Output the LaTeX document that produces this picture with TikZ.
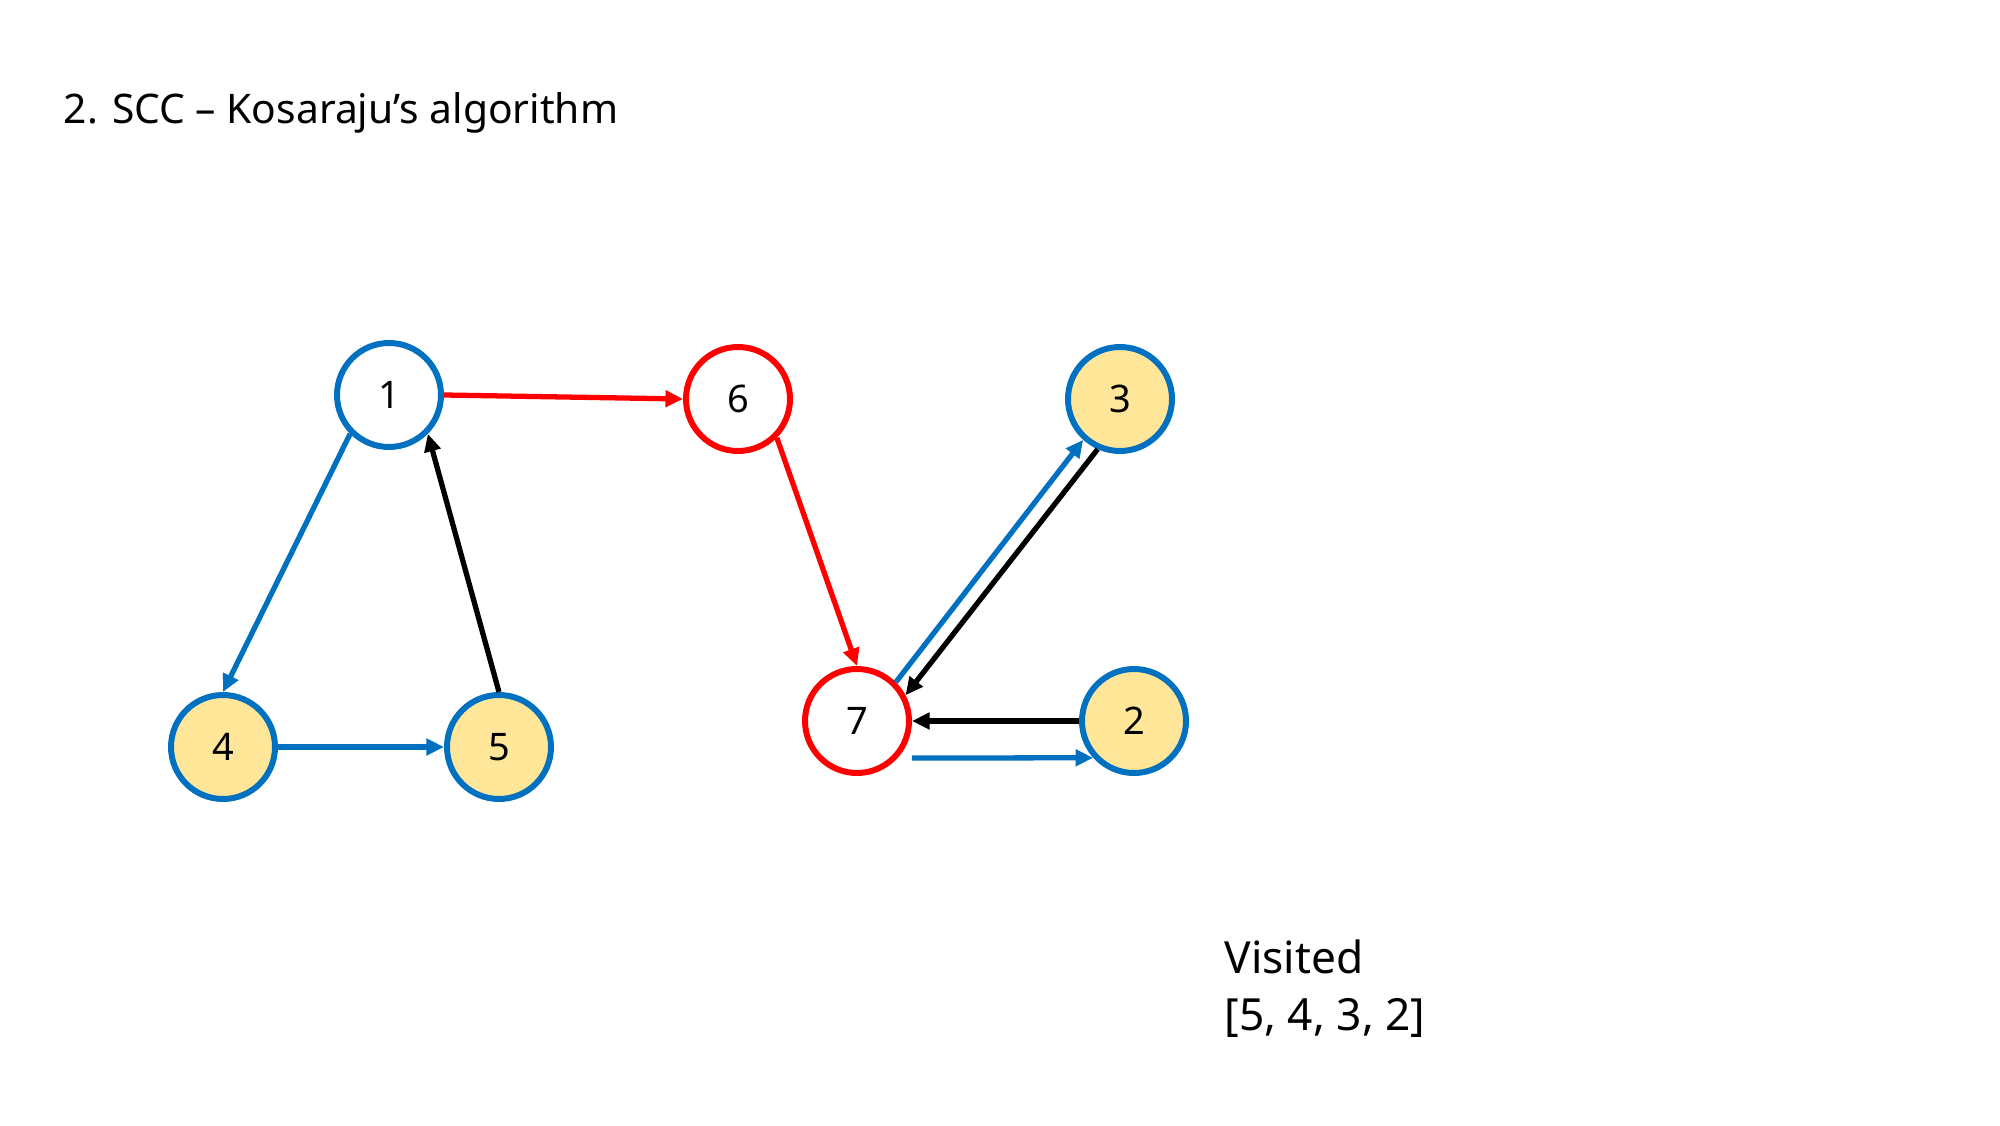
\documentclass[tikz,border=0pt]{standalone}
\usepackage{fontspec}
\setmainfont{Noto Sans}
\usetikzlibrary{arrows.meta}
\definecolor{sccblue}{HTML}{0070C0}
\definecolor{sccred}{HTML}{FF0000}
\definecolor{sccfill}{HTML}{FFE699}

\begin{document}
\begin{tikzpicture}[
  >={Triangle[length=5pt,width=4.6pt]},
  vertex/.style={circle,draw,line width=1.7pt,minimum size=1.04cm,inner sep=0pt,font=\fontsize{10.8}{12}\selectfont},
  seen/.style={vertex,draw=sccblue,fill=sccfill},
  fresh/.style={vertex,draw=sccblue,fill=white},
  active/.style={vertex,draw=sccred,fill=white},
  link/.style={line width=1.5pt,->},
  label/.style={anchor=base west,inner sep=0pt,font=\fontsize{12.6}{15}\selectfont}
]
\useasboundingbox (0,0) rectangle (20,11.25);

\node[label,font=\fontsize{11.6}{14}\selectfont] (title) at (0.63,10.01) {2. SCC – Kosaraju’s algorithm};

% vertices
\node[fresh] (n1) at (3.89,7.30) {1};
\node[active] (n6) at (7.38,7.26) {6};
\node[seen] (n3) at (11.20,7.26) {3};
\node[seen] (n4) at (2.23,3.78) {4};
\node[seen] (n5) at (4.99,3.78) {5};
\node[active] (n7) at (8.57,4.04) {7};
\node[seen] (n2) at (11.34,4.04) {2};

% edges
\draw[link,sccred] (n1.east) -- (n6.west);
\draw[link,sccblue] (n1.225) -- (n4.north);
\draw[link] (n5.north) -- (n1.-45);
\draw[link,sccblue] (n4.east) -- (n5.west);
\draw[link,sccred] (n6.-45) -- (n7.north);
\draw[link,sccblue] (n7.45) -- (n3.228);
\draw[link] (n3.246) -- (n7.28);
\draw[link] (n2.west) -- (n7.east);
\draw[link,sccblue] ([yshift=-3.7mm]n7.east) -- (n2.222.5);

\node[label] (visited) at (12.24,1.52) {Visited};
\node[label] (order) at (12.24,0.95) {[5, 4, 3, 2]};

\end{tikzpicture}
\end{document}
